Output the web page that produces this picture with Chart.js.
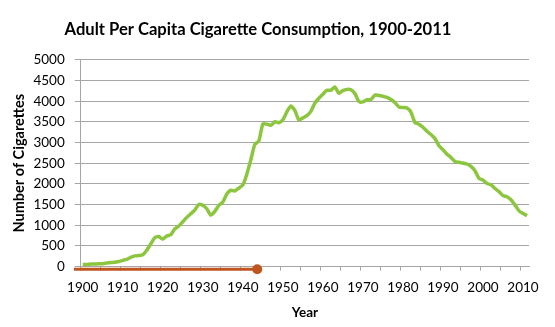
<!DOCTYPE html>
<html>
<head>
<meta charset="utf-8">
<script src="https://cdn.jsdelivr.net/npm/chart.js@4/dist/chart.umd.min.js"></script>
<style>
  body { margin: 0; background: #fff; }
  #wrap { width: 555px; height: 327px; }
</style>
</head>
<body>
<div id="wrap"><canvas id="chart" width="555" height="327"></canvas></div>
<script>
// categories: one per year, 1900-2011
const years = [];
for (let y = 1900; y <= 2011; y++) years.push(String(y));

// adult per capita cigarettes
const consumption = [
  54, 53, 60, 64, 66, 70, 86, 99, 105, 125,          // 1900s
  151, 173, 223, 260, 267, 285, 395, 551, 697, 727,  // 1910s
  665, 742, 770, 911, 982, 1085, 1191, 1279, 1366, 1504, // 1920s
  1485, 1399, 1245, 1334, 1483, 1564, 1754, 1847, 1830, 1900, // 1930s
  1976, 2236, 2585, 2956, 3039, 3449, 3446, 3416, 3505, 3480, // 1940s
  3552, 3744, 3886, 3778, 3546, 3597, 3650, 3755, 3953, 4073, // 1950s
  4171, 4266, 4265, 4345, 4194, 4258, 4287, 4280, 4186, 3993, // 1960s
  3985, 4037, 4043, 4148, 4141, 4122, 4091, 4043, 3970, 3861, // 1970s
  3849, 3836, 3739, 3488, 3446, 3370, 3274, 3197, 3096, 2926, // 1980s
  2828, 2720, 2641, 2543, 2524, 2505, 2482, 2423, 2320, 2136, // 1990s
  2092, 2010, 1979, 1890, 1814, 1717, 1691, 1619, 1493, 1349, // 2000s
  1287, 1232                                          // 2010-2011
];

// the orange bar under the axis, start and end of the period
const periodYears = [1897.8, 1943.6];
const periodValues = [-65, -65];

const yTickStep = 500;
const yMax = 5000;

const GREEN = '#8cc63e';
const ORANGE = '#c0561f';
const GRID = '#a6a6a6';
const FONT = 'Lato, "Open Sans", sans-serif';

new Chart(document.getElementById('chart').getContext('2d'), {
  type: 'line',
  data: {
    labels: years,
    datasets: [
      {
        label: 'Consumption',
        data: consumption,
        borderColor: GREEN,
        borderWidth: 3.5,
        pointRadius: 0,
        tension: 0.2,
        xAxisID: 'x',
        order: 2
      },
      {
        label: 'Period',
        data: periodYears.map((x, i) => ({ x, y: periodValues[i] })),
        borderColor: ORANGE,
        backgroundColor: ORANGE,
        borderWidth: 3,
        pointRadius: 5,
        pointBackgroundColor: ORANGE,
        pointBorderWidth: 0,
        xAxisID: 'x2',
        clip: false,
        order: 1
      }
    ]
  },
  options: {
    responsive: false,
    animation: false,
    layout: { padding: { left: -13, right: 26, top: 0, bottom: 4 } },
    plugins: {
      legend: { display: false },
      tooltip: { enabled: false },
      title: {
        display: true,
        text: 'Adult Per Capita Cigarette Consumption, 1900-2011',
        color: '#000',
        font: { family: FONT, size: 16.6, weight: 'bold' },
        padding: { top: 20, bottom: 20 }
      }
    },
    scales: {
      x: {
        type: 'category',
        offset: true,
        grid: {
          offset: true,
          drawOnChartArea: false,
          drawTicks: true,
          tickLength: 4,
          color: ctx => (ctx.index % 5 === 0 ? GRID : 'rgba(0,0,0,0)')
        },
        border: { color: GRID },
        ticks: {
          autoSkip: false,
          maxRotation: 0,
          padding: 9,
          color: '#000',
          font: { family: FONT, size: 13.5 },
          callback: (v, i) => (i % 10 === 0 ? years[i] : '')
        },
        title: {
          display: true,
          text: 'Year',
          color: '#000',
          font: { family: FONT, size: 13.5, weight: 'bold' },
          padding: { top: 0, bottom: 2 }
        }
      },
      x2: {
        type: 'linear',
        display: false,
        min: 1899.5,
        max: 2011.5
      },
      y: {
        min: 0,
        max: yMax,
        ticks: {
          stepSize: yTickStep,
          padding: 10,
          color: '#000',
          font: { family: FONT, size: 13.5 },
          callback: v => String(v)
        },
        grid: { color: GRID, tickLength: 6 },
        border: { color: GRID },
        title: {
          display: true,
          text: 'Number of Cigarettes',
          color: '#000',
          font: { family: FONT, size: 14.5, weight: 'bold' },
          padding: { top: 24, bottom: -5 }
        }
      }
    }
  }
});
</script>
</body>
</html>
